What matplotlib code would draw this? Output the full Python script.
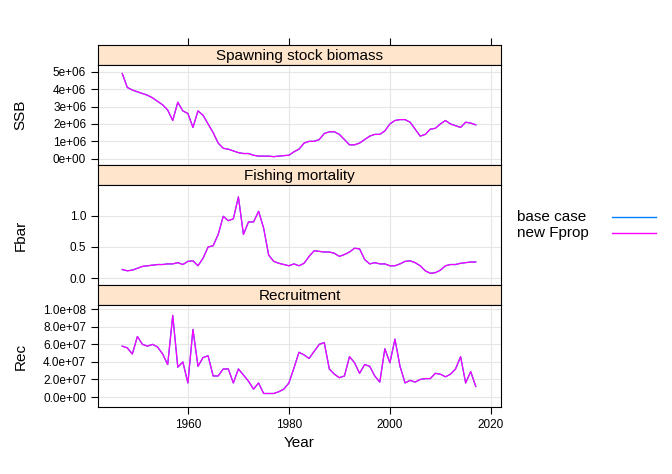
import matplotlib
matplotlib.use('Agg')
import matplotlib.pyplot as plt
import numpy as np

plt.rcParams['font.family'] = ['Liberation Sans', 'DejaVu Sans']

years = np.arange(1947, 2018)

ssb = [4.9, 4.1, 3.95, 3.85, 3.75, 3.65, 3.5, 3.3, 3.1, 2.8, 2.2, 3.25, 2.75, 2.6, 1.8,
       2.75, 2.5, 2.0, 1.5, 0.9, 0.6, 0.55, 0.45, 0.35, 0.3, 0.3, 0.2, 0.15, 0.15, 0.15,
       0.12, 0.15, 0.18, 0.2, 0.4, 0.55, 0.9, 1.0, 1.0, 1.1, 1.45, 1.55, 1.55, 1.4, 1.1,
       0.8, 0.8, 0.9, 1.1, 1.3, 1.4, 1.4, 1.6, 2.0, 2.2, 2.25, 2.25, 2.1, 1.7, 1.3, 1.4,
       1.7, 1.75, 2.0, 2.2, 2.0, 1.9, 1.8, 2.1, 2.05, 1.95]
fbar = [0.14, 0.12, 0.13, 0.16, 0.19, 0.2, 0.21, 0.22, 0.22, 0.23, 0.23, 0.25, 0.22, 0.27,
        0.28, 0.2, 0.32, 0.5, 0.52, 0.7, 0.99, 0.92, 0.95, 1.3, 0.7, 0.9, 0.9, 1.07, 0.8,
        0.37, 0.27, 0.24, 0.22, 0.2, 0.23, 0.2, 0.24, 0.35, 0.44, 0.43, 0.42, 0.42, 0.4,
        0.35, 0.38, 0.42, 0.48, 0.47, 0.3, 0.23, 0.25, 0.23, 0.23, 0.2, 0.2, 0.23, 0.27,
        0.28, 0.25, 0.2, 0.12, 0.08, 0.09, 0.13, 0.2, 0.22, 0.22, 0.24, 0.25, 0.26, 0.26]
rec = [5.8, 5.6, 4.9, 6.9, 6.0, 5.8, 6.0, 5.7, 4.9, 3.7, 9.3, 3.4, 4.0, 1.6, 7.7, 3.5, 4.5,
       4.7, 2.4, 2.4, 3.2, 3.2, 1.6, 3.2, 2.5, 1.8, 0.9, 1.6, 0.4, 0.4, 0.4, 0.6, 0.9, 1.6,
       3.3, 5.1, 4.8, 4.4, 5.2, 6.0, 6.2, 3.2, 2.6, 2.2, 2.4, 4.6, 3.9, 2.7, 3.7, 3.5, 2.4,
       1.7, 5.5, 3.9, 6.6, 3.5, 1.6, 1.9, 1.7, 2.0, 2.1, 2.1, 2.7, 2.6, 2.3, 2.6, 3.2, 4.6,
       1.6, 2.9, 1.2]
ssb = np.array(ssb) * 1e6
rec = np.array(rec) * 1e7

W, H = 672, 474
fig = plt.figure(figsize=(W / 100, H / 100), dpi=100)
BLUE = '#0080ff'
MAG = '#ff00ff'
STRIP = '#ffe5cc'

def fr(x0, y0, x1, y1):
    return [x0 / W, 1 - y1 / H, (x1 - x0) / W, (y1 - y0) / H]

panels = [
    ('Spawning stock biomass', 'SSB', ssb, (45, 65, 165), (-0.36e6, 5.39e6),
     [0, 1e6, 2e6, 3e6, 4e6, 5e6], ['0e+00', '1e+06', '2e+06', '3e+06', '4e+06', '5e+06']),
    ('Fishing mortality', 'Fbar', fbar, (165, 185, 285), (-0.107, 1.49),
     [0, 0.5, 1.0], ['0.0', '0.5', '1.0']),
    ('Recruitment', 'Rec', rec, (285, 305, 407), (-0.114e8, 1.049e8),
     [0, 2e7, 4e7, 6e7, 8e7, 1e8], ['0.0e+00', '2.0e+07', '4.0e+07', '6.0e+07', '8.0e+07', '1.0e+08']),
]
x0, x1 = 98, 501
xlim = (1942.2, 2022.0)
for i, (title, ylab, vals, (ys, yp, ye), ylim, yt, ytl) in enumerate(panels):
    sax = fig.add_axes(fr(x0, ys, x1, yp))
    sax.set_facecolor(STRIP)
    sax.set_xticks([]); sax.set_yticks([])
    sax.text(0.5, 0.45, title, ha='center', va='center', fontsize=11, transform=sax.transAxes)
    if i == 0:
        sax.set_xlim(xlim)
        sax.set_xticks([1960, 1980, 2000, 2020])
        sax.tick_params(axis='x', top=True, bottom=False, labeltop=False, labelbottom=False,
                        direction='out', length=5)
    ax = fig.add_axes(fr(x0, yp, x1, ye))
    ax.grid(True, color='#e6e6e6', lw=0.8)
    ax.set_axisbelow(True)
    ax.plot(years, vals, color=BLUE, lw=0.9)
    ax.plot(years, vals, color=MAG, lw=0.9)
    ax.set_xlim(xlim); ax.set_ylim(ylim)
    ax.set_xticks([1960, 1980, 2000, 2020])
    ax.set_yticks(yt)
    ax.set_yticklabels(ytl, fontsize=8.5)
    ax.set_ylabel(ylab, fontsize=11)
    ax.yaxis.set_label_coords(-0.175, 0.5)
    ax.tick_params(axis='y', length=5)
    if i == 2:
        ax.tick_params(axis='x', labelsize=8.5, length=5)
        ax.set_xlabel('Year', fontsize=11)
    else:
        ax.tick_params(axis='x', length=0, labelbottom=False)

# legend
fig.text(517 / W, 1 - 217 / H, 'base case', fontsize=11, va='center')
fig.text(517 / W, 1 - 233 / H, 'new Fprop', fontsize=11, va='center')
fig.add_artist(plt.Line2D([612 / W, 656 / W], [1 - 217 / H] * 2, color=BLUE, lw=1))
fig.add_artist(plt.Line2D([612 / W, 656 / W], [1 - 233 / H] * 2, color=MAG, lw=1))

fig.savefig('out.png', dpi=100)
